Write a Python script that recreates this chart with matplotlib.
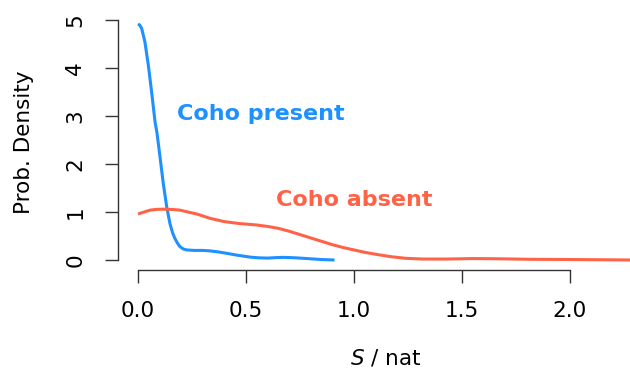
import matplotlib
matplotlib.use("Agg")
import matplotlib.pyplot as plt

# Density curves
present_x = [0.0, 0.008, 0.017, 0.032, 0.048, 0.063, 0.079, 0.088, 0.102, 0.117, 0.133, 0.148,
             0.16, 0.171, 0.183, 0.194, 0.21, 0.225, 0.26, 0.3, 0.333, 0.37, 0.41, 0.46,
             0.52, 0.56, 0.6, 0.64, 0.67, 0.71, 0.75, 0.8, 0.85, 0.91]
present_y = [4.92, 4.9, 4.83, 4.55, 4.06, 3.51, 2.88, 2.65, 2.15, 1.6, 1.11, 0.76,
             0.57, 0.45, 0.35, 0.28, 0.23, 0.21, 0.2, 0.2, 0.19, 0.17, 0.14, 0.1,
             0.06, 0.045, 0.04, 0.05, 0.055, 0.05, 0.04, 0.025, 0.01, 0.0]

absent_x = [0.0, 0.028, 0.056, 0.085, 0.117, 0.155, 0.194, 0.232, 0.272, 0.333, 0.4, 0.47,
            0.55, 0.6, 0.65, 0.7, 0.75, 0.8, 0.85, 0.9, 0.95, 1.0, 1.05, 1.1, 1.17,
            1.24, 1.32, 1.43, 1.55, 1.68, 1.81, 2.0, 2.15, 2.28]
absent_y = [0.96, 1.0, 1.04, 1.055, 1.06, 1.055, 1.04, 1.0, 0.96, 0.87, 0.8, 0.76,
            0.73, 0.7, 0.66, 0.6, 0.53, 0.46, 0.39, 0.32, 0.26, 0.21, 0.16, 0.12, 0.07,
            0.035, 0.02, 0.02, 0.03, 0.025, 0.015, 0.01, 0.005, 0.0]

x_ticks = [0.0, 0.5, 1.0, 1.5, 2.0]
x_tick_labels = ["0.0", "0.5", "1.0", "1.5", "2.0"]
y_ticks = [0, 1, 2, 3, 4, 5]
y_tick_labels = ["0", "1", "2", "3", "4", "5"]

blue = "#1E90FF"
red = "#FF6347"

fig = plt.figure(figsize=(6.3, 3.71), dpi=100)
ax = fig.add_axes([118/630, 1 - 269.5/371, 1 - 118/630, (269.5 - 14)/371])
ax.plot(present_x, present_y, color=blue, lw=2.2, solid_capstyle="butt", solid_joinstyle="round")
ax.plot(absent_x, absent_y, color=red, lw=2.2, solid_capstyle="butt", solid_joinstyle="round")
ax.set_xlim(-0.0925, 2.278)
ax.set_ylim(-0.198, 5.13)

for s in ["top", "right"]:
    ax.spines[s].set_visible(False)
ax.spines["left"].set_bounds(0, 5)
ax.spines["bottom"].set_bounds(0, 2)
for s in ["left", "bottom"]:
    ax.spines[s].set_linewidth(1.0)
    ax.spines[s].set_color("#333333")

ax.set_xticks(x_ticks)
ax.set_xticklabels(x_tick_labels)
ax.set_yticks(y_ticks)
ax.set_yticklabels(y_tick_labels, rotation=90, va="center")
ax.tick_params(axis="both", length=9.5, width=1.0, labelsize=15.5, color="#333333")
ax.tick_params(axis="x", pad=13)
ax.tick_params(axis="y", pad=14)

ax.set_xlabel(r"$S$ / nat", fontsize=15.5)
ax.xaxis.set_label_coords(0.523, 1 - (358 - 14) / (269.5 - 14), transform=ax.transAxes)
ax.xaxis.label.set_va("center")
ax.set_ylabel("Prob. Density", fontsize=15.5)
ax.yaxis.set_label_coords((24 - 118) / 512, 0.5, transform=ax.transAxes)
ax.yaxis.label.set_va("center")

ax.text(0.57, 3.04, "Coho present", color=blue, fontsize=16, fontweight="bold", ha="center", va="center")
ax.text(1.0, 1.25, "Coho absent", color=red, fontsize=16, fontweight="bold", ha="center", va="center")

fig.savefig("out.png", dpi=100)
